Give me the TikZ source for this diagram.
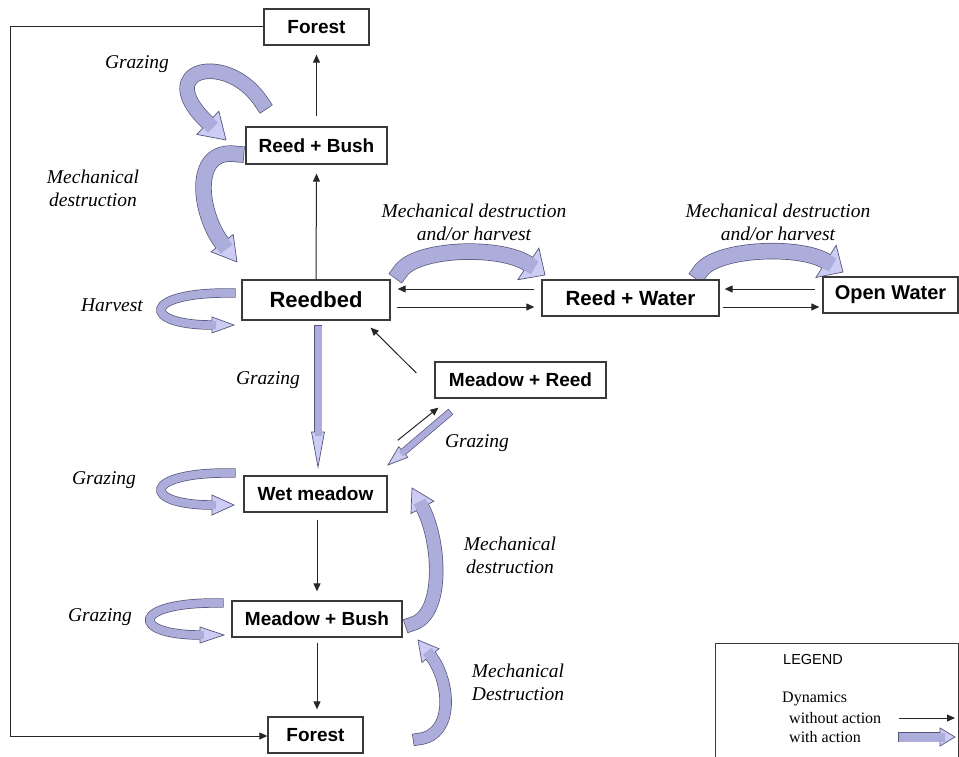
\documentclass[tikz,border=0pt]{standalone}
\usepackage{fontspec}
\setmainfont{Liberation Serif}
\newfontfamily\boxfont{Liberation Sans}
\usetikzlibrary{arrows.meta,calc}
\definecolor{aedge}{HTML}{55557A}
\definecolor{aband}{HTML}{ADADDC}
\definecolor{ahead}{HTML}{CCCCF4}
\definecolor{bxline}{HTML}{3A3A3A}
% #1 band width, #2 head length, #3 head half width, #4 start, #5 control 1, #6 control 2, #7 tip
\newcommand\curlarrow[7]{%
  \draw[line width=\dimexpr#1+1.4pt\relax, draw=aedge, line cap=rect, shorten >=#2] #4 .. controls #5 and #6 .. #7;
  \coordinate (hb) at ($#7!#2!#6$);
  \filldraw[fill=ahead, draw=aedge, line width=0.7pt, line join=miter] #7 -- ($(hb)!#3!90:#7$) -- ($(hb)!#3!-90:#7$) -- cycle;
  \draw[line width=#1, draw=aband, line cap=rect, shorten >=#2] #4 .. controls #5 and #6 .. #7;
}
\tikzset{
  box/.style={draw=bxline, line width=1.3pt, fill=white, inner sep=0pt, font=\boxfont\bfseries\fontsize{19}{22}\selectfont},
  lab/.style={font=\itshape\fontsize{19.5}{23}\selectfont, align=center, inner sep=0pt},
  conn/.style={draw=black!85, line width=1pt, -{Triangle[length=8pt,width=7pt]}},
  legtext/.style={font=\fontsize{16}{18}\selectfont, anchor=west, inner sep=0pt},
}
\begin{document}
\begin{tikzpicture}[x=1pt,y=-1pt]
\useasboundingbox (0,0) rectangle (959,757);
% fat arrows (with action)
\curlarrow{14pt}{25pt}{16pt}{(262,103)}{(228,50)}{(150,68)}{(226,140)}
\curlarrow{15pt}{24pt}{14pt}{(236,154)}{(190,148)}{(200,215)}{(237,262)}
\curlarrow{8pt}{22pt}{8pt}{(231,293)}{(141,292)}{(141,325)}{(234,325)}
\curlarrow{8pt}{22pt}{10pt}{(231,473)}{(141,472)}{(141,505)}{(234,505)}
\curlarrow{8pt}{24pt}{8pt}{(219,603)}{(130,602)}{(130,635)}{(224,635)}
\curlarrow{7pt}{35pt}{6.5pt}{(318,329)}{(318,329)}{(318,329)}{(318,467)}
\curlarrow{6pt}{20pt}{7pt}{(448,414)}{(448,414)}{(448,414)}{(388,465)}
\curlarrow{13pt}{22pt}{13pt}{(412,624)}{(445,615)}{(440,540)}{(412,488)}
\curlarrow{11pt}{20pt}{11pt}{(419,739)}{(455,735)}{(450,680)}{(418,640)}
\curlarrow{15pt}{20pt}{19pt}{(400,272)}{(415,248)}{(500,245)}{(545,275)}
\curlarrow{15pt}{20pt}{19pt}{(700,272)}{(715,248)}{(800,245)}{(843,272)}
% boxes
\node[box, minimum width=105pt, minimum height=36pt] (f1) at (316.5,27) {Forest};
\node[box, minimum width=141pt, minimum height=37pt] (rb) at (316.5,145.5) {Reed + Bush};
\node[box, minimum width=148pt, minimum height=40pt, font=\boxfont\bfseries\fontsize{22}{24}\selectfont] (bed) at (316,300) {Reedbed};
\node[box, minimum width=177pt, minimum height=36pt, font=\boxfont\bfseries\fontsize{20.5}{23}\selectfont] (rw) at (630.5,298) {Reed + Water};
\node[box, minimum width=135pt, minimum height=36pt, font=\boxfont\bfseries\fontsize{20}{23}\selectfont] (ow) at (890.5,295) {Open Water};
\node[box, minimum width=171pt, minimum height=36pt] (mr) at (520.5,380) {Meadow + Reed};
\node[box, minimum width=143pt, minimum height=36pt] (wm) at (315.5,494) {Wet meadow};
\node[box, minimum width=170pt, minimum height=36pt] (mb) at (317,619) {Meadow + Bush};
\node[box, minimum width=95pt, minimum height=36pt] (f2) at (315.5,735) {Forest};
% labels
\node[lab] (l1) at (137,64) {Grazing};
\node[lab] (l2) at (93,188) {Mechanical\\destruction};
\node[lab] (l3) at (112,305) {Harvest};
\node[lab] (l4) at (268,380) {Grazing};
\node[lab] (l5) at (104,480) {Grazing};
\node[lab] (l6) at (100,617) {Grazing};
\node[lab] (l7) at (510,555) {Mechanical\\destruction};
\node[lab] (l8) at (518,682) {Mechanical\\Destruction};
\node[lab] (l9) at (474,222) {Mechanical destruction\\and/or harvest};
\node[lab] (l10) at (778,222) {Mechanical destruction\\and/or harvest};
\node[lab] (l11) at (477,443) {Grazing};
% thin connectors (without action)
\draw[conn] ([shift={(0,-10)}]rb.north) -- ([shift={(0,9)}]f1.south);
\draw[conn] (bed.north) -- ([shift={(0,9)}]rb.south);
\draw[conn] ([shift={(-7,-9)}]rw.west) -- ([shift={(7,-11)}]bed.east);
\draw[conn] ([shift={(6,7)}]bed.east) -- ([shift={(-7,9)}]rw.west);
\draw[conn] ([shift={(-7,-6)}]ow.west) -- ([shift={(5,-9)}]rw.east);
\draw[conn] ([shift={(3,9)}]rw.east) -- ([shift={(-3,12)}]ow.west);
\draw[conn] ([shift={(-18,-7)}]mr.west) -- ([shift={(-20,7)}]bed.south east);
\draw[conn] ([shift={(10,-35)}]wm.north east) -- ([shift={(4,9)}]mr.south west);
\draw[conn] ([shift={(1.5,7)}]wm.south) -- ([shift={(0,-9)}]mb.north);
\draw[conn] ([shift={(0,5)}]mb.south) -- ($(mb.south |- f2.north)+(0,-7)$);
\coordinate (lc1) at (10,27);
\coordinate (lc2) at (10,736);
\draw[conn] (f1.west) -- (lc1) -- (lc2) -- ([shift={(0,1)}]f2.west);
% legend
\draw[draw=bxline, line width=1pt] (715,757) -- (715,643) -- (958,643) -- (958,757);
\node[font=\boxfont\fontsize{14.5}{17}\selectfont, anchor=west, inner sep=0pt] (lg) at (783,660) {LEGEND};
\node[legtext] (ld) at (782,699) {Dynamics};
\node[legtext] (lw) at (789,718) {without action};
\node[legtext] (la) at (789,737) {with action};
\coordinate (lt1) at (899,718);
\coordinate (lt2) at (955,718);
\draw[conn] (lt1) -- (lt2);
\curlarrow{9pt}{15pt}{9pt}{(903,737)}{(903,737)}{(903,737)}{(955,737)}
\end{tikzpicture}
\end{document}
